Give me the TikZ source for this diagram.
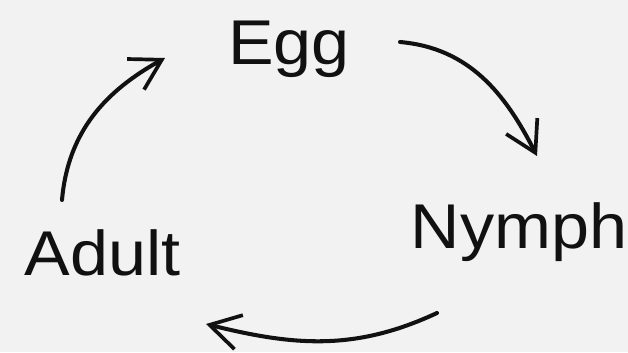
\documentclass[tikz,border=0pt]{standalone}
\usepackage{fontspec}
\setmainfont{Liberation Sans}[FakeStretch=1.08]
\usepackage{tikz}
\usetikzlibrary{arrows.meta, positioning}

\definecolor{paper}{HTML}{F2F2F2}
\definecolor{ink}{HTML}{111111}

\tikzset{
    stage/.style={anchor=base, inner sep=0pt, text=ink, font=\fontsize{36}{40}\selectfont},
    cycarrow/.style={draw=ink, line width=2.3pt, line cap=round, line join=round,
        -{Straight Barb[length=6mm, width=7mm, line width=2.1pt]}}
}

\begin{document}
\begin{tikzpicture}

                % Fundo
                \fill[paper] (0, 0) rectangle (12.56, 7.04);
                \useasboundingbox (0, 0) rectangle (12.56, 7.04);

                % Fases
                \node[stage] (egg) at (5.78, 5.74) {Egg};
                \node[stage] (nymph) at (10.38, 2.08) {Nymph};
                \node[stage] (adult) at (2.05, 1.54) {Adult};

                % Pontas das setas
                \coordinate (egg_out) at (8.0, 6.2);
                \coordinate (nymph_in) at (10.74, 3.92);
                \coordinate (nymph_out) at (8.74, 0.78);
                \coordinate (adult_in) at (4.12, 0.56);
                \coordinate (adult_out) at (1.24, 3.04);
                \coordinate (egg_in) at (3.3, 5.88);

                % Ciclo
                \draw[cycarrow] (egg_out) to[out=-5, in=117] (nymph_in);
                \draw[cycarrow] (nymph_out) to[out=205, in=-14] (adult_in);
                \draw[cycarrow] (adult_out) to[out=85, in=209] (egg_in);

\end{tikzpicture}
\end{document}
